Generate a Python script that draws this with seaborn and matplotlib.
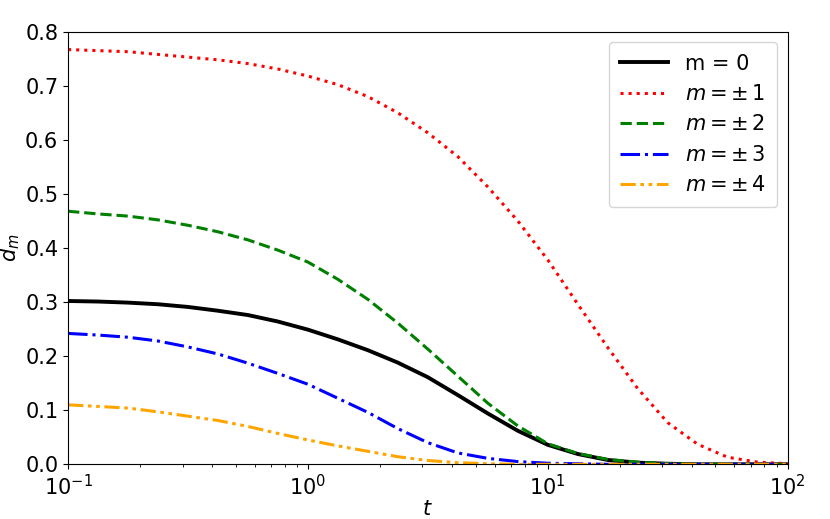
import matplotlib
matplotlib.use("Agg")
import matplotlib.pyplot as plt
import seaborn as sns
import pandas as pd

t = [0.1, 0.1334, 0.1778, 0.2371, 0.3162, 0.4217, 0.5623, 0.7499, 1.0,
     1.334, 1.778, 2.371, 3.162, 4.217, 5.623, 7.499, 10.0,
     13.34, 17.78, 23.71, 31.62, 42.17, 56.23, 74.99, 100.0]

d0 = [0.302, 0.301, 0.299, 0.296, 0.291, 0.284, 0.276, 0.264, 0.249,
      0.231, 0.211, 0.188, 0.161, 0.128, 0.094, 0.062, 0.036,
      0.019, 0.008, 0.003, 0.001, 0.0, 0.0, 0.0, 0.0]
d1 = [0.767, 0.765, 0.763, 0.758, 0.753, 0.748, 0.741, 0.731, 0.718,
      0.702, 0.680, 0.650, 0.613, 0.569, 0.513, 0.450, 0.378,
      0.296, 0.216, 0.140, 0.077, 0.037, 0.013, 0.004, 0.001]
d2 = [0.468, 0.463, 0.459, 0.452, 0.442, 0.430, 0.415, 0.396, 0.374,
      0.342, 0.305, 0.261, 0.213, 0.163, 0.113, 0.071, 0.038,
      0.020, 0.009, 0.004, 0.001, 0.0, 0.0, 0.0, 0.0]
d3 = [0.242, 0.239, 0.235, 0.228, 0.217, 0.204, 0.187, 0.168, 0.148,
      0.122, 0.096, 0.066, 0.040, 0.021, 0.011, 0.005, 0.002,
      0.001, 0.0, 0.0, 0.0, 0.0, 0.0, 0.0, 0.0]
d4 = [0.110, 0.107, 0.104, 0.097, 0.089, 0.081, 0.070, 0.057, 0.045,
      0.034, 0.024, 0.014, 0.007, 0.003, 0.001, 0.0, 0.0,
      0.0, 0.0, 0.0, 0.0, 0.0, 0.0, 0.0, 0.0]

labels = ["m = 0", r"$m = \pm\,1$", r"$m = \pm\,2$", r"$m = \pm\,3$", r"$m = \pm\,4$"]
colors = ["black", "red", "green", "blue", "orange"]
styles = ["-", ":", "--", "-.", (0, (5, 1.5, 1.2, 1.5, 1.2, 1.5))]
widths = [2.8, 2.2, 2.2, 2.2, 2.2]
series = [d0, d1, d2, d3, d4]

fig = plt.figure(figsize=(8.3, 5.19), dpi=100)
ax = fig.add_axes([0.082, 0.1054, 0.867, 0.8335])

for y, lab, c, ls, lw in zip(series, labels, colors, styles, widths):
    df = pd.DataFrame({"t": t, "d": y})
    sns.lineplot(data=df, x="t", y="d", ax=ax, color=c, linestyle=ls,
                 linewidth=lw, label=lab)

ax.set_xscale("log")
ax.set_xlim(0.1, 100)
ax.set_ylim(0, 0.8)
ax.set_yticks([0.0, 0.1, 0.2, 0.3, 0.4, 0.5, 0.6, 0.7, 0.8])
ax.tick_params(labelsize=15)
ax.set_xlabel(r"$t$", fontsize=15, labelpad=0)
ax.set_ylabel(r"$d_m$", fontsize=15, labelpad=2)
ax.legend(loc="upper right", fontsize=15, handlelength=2.3, borderpad=0.55)

fig.savefig("out.png", dpi=100)
